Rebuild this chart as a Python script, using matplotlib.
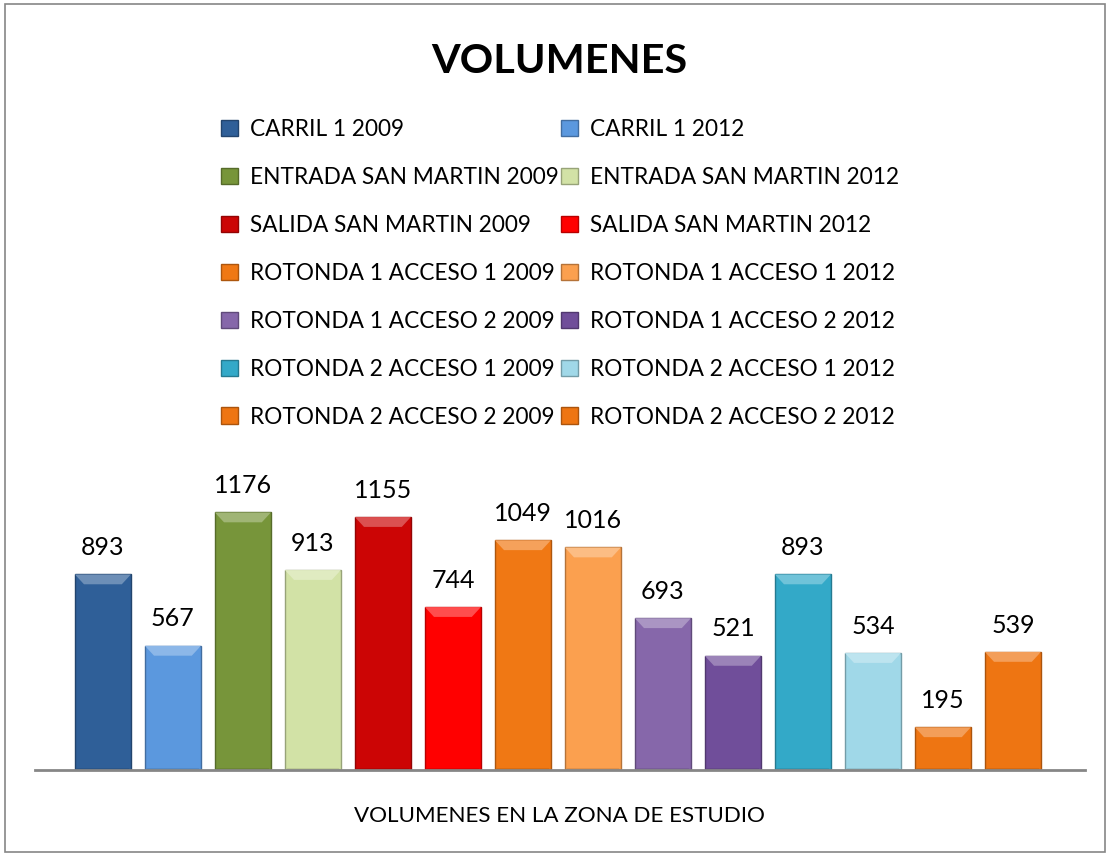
import matplotlib
matplotlib.use("Agg")
import matplotlib.pyplot as plt
from matplotlib.patches import Rectangle, Polygon
import matplotlib.colors as mcolors

series = ["CARRIL 1 2009", "CARRIL 1 2012",
          "ENTRADA SAN MARTIN 2009", "ENTRADA SAN MARTIN 2012",
          "SALIDA SAN MARTIN 2009", "SALIDA SAN MARTIN 2012",
          "ROTONDA 1 ACCESO 1 2009", "ROTONDA 1 ACCESO 1 2012",
          "ROTONDA 1 ACCESO 2 2009", "ROTONDA 1 ACCESO 2 2012",
          "ROTONDA 2 ACCESO 1 2009", "ROTONDA 2 ACCESO 1 2012",
          "ROTONDA 2 ACCESO 2 2009", "ROTONDA 2 ACCESO 2 2012"]
values = [893, 567, 1176, 913, 1155, 744, 1049, 1016, 693, 521, 893, 534, 195, 539]
colors = ["#2F5F98", "#5B98DE", "#77953A", "#D2E2A6", "#CC0505", "#FF0000",
          "#F07814", "#FBA04F", "#8667AA", "#704E9A", "#33A9C8", "#A0D8E8",
          "#EE7512", "#EE7512"]
category_title = "VOLUMENES EN LA ZONA DE ESTUDIO"
title = "VOLUMENES"

FONT = "Lato"
W, H = 1110, 856
fig = plt.figure(figsize=(W / 100, H / 100), dpi=100)
fig.patch.set_facecolor("white")

# outer border
fig.patches.append(Rectangle((5 / W, 4 / H), 1100 / W, 848 / H, transform=fig.transFigure,
                             fill=False, edgecolor="#868686", linewidth=1.2))

ax = fig.add_axes([35 / W, (H - 770) / H, 1050 / W, 320 / H])
ax.set_facecolor("none")
x = list(range(len(values)))
bars = ax.bar(x, values, width=0.8, color=colors, zorder=3)

for b, c in zip(bars, colors):
    rgb = mcolors.to_rgb(c)
    dark = tuple(v * 0.72 for v in rgb)
    light = tuple(v + (1 - v) * 0.3 for v in rgb)
    b.set_edgecolor(dark)
    b.set_linewidth(1.0)
    x0, w, h = b.get_x(), b.get_width(), b.get_height()
    bev = 45
    inset = 0.13
    top = Polygon([(x0, h), (x0 + w, h), (x0 + w - inset, h - bev), (x0 + inset, h - bev)],
                  closed=True, facecolor=light, edgecolor="none", zorder=4)
    ax.add_patch(top)
    bot = Polygon([(x0, 0), (x0 + w, 0), (x0 + w - 0.03, 8), (x0 + 0.03, 8)],
                  closed=True, facecolor=tuple(v * 0.88 for v in rgb), edgecolor="none", zorder=4)
    ax.add_patch(bot)

for xi, v in zip(x, values):
    ax.annotate(str(v), (xi, v), xytext=(0, 14), textcoords="offset points",
                ha="center", va="baseline", fontsize=18, family=FONT, color="black")

ax.set_xlim(-0.97, 14.03)
ax.set_ylim(0, 320 / 0.219)
for s in ["top", "left", "right"]:
    ax.spines[s].set_visible(False)
ax.spines["bottom"].set_color("#868686")
ax.spines["bottom"].set_linewidth(2)
ax.spines["bottom"].set_zorder(5)
ax.set_xticks([])
ax.set_yticks([])

fig.text(0.504, 1 - 73 / H, title, ha="center", va="baseline", fontsize=29.8,
         fontweight="bold", family=FONT)
fig.text(0.504, 1 - 822 / H, category_title, ha="center", va="baseline",
         fontsize=16.1, family=FONT)

order = list(range(0, 14, 2)) + list(range(1, 14, 2))
leg = fig.legend([bars[i] for i in order], [series[i] for i in order], ncol=2,
                 loc="upper left", bbox_to_anchor=(221 / W, 1 - 119 / H),
                 frameon=False, prop={"family": FONT, "size": 16.3},
                 handlelength=0.75, handleheight=0.75, handletextpad=0.55,
                 labelspacing=1.19, columnspacing=0.06, borderaxespad=0, borderpad=0)

fig.savefig("out.png", dpi=100)
